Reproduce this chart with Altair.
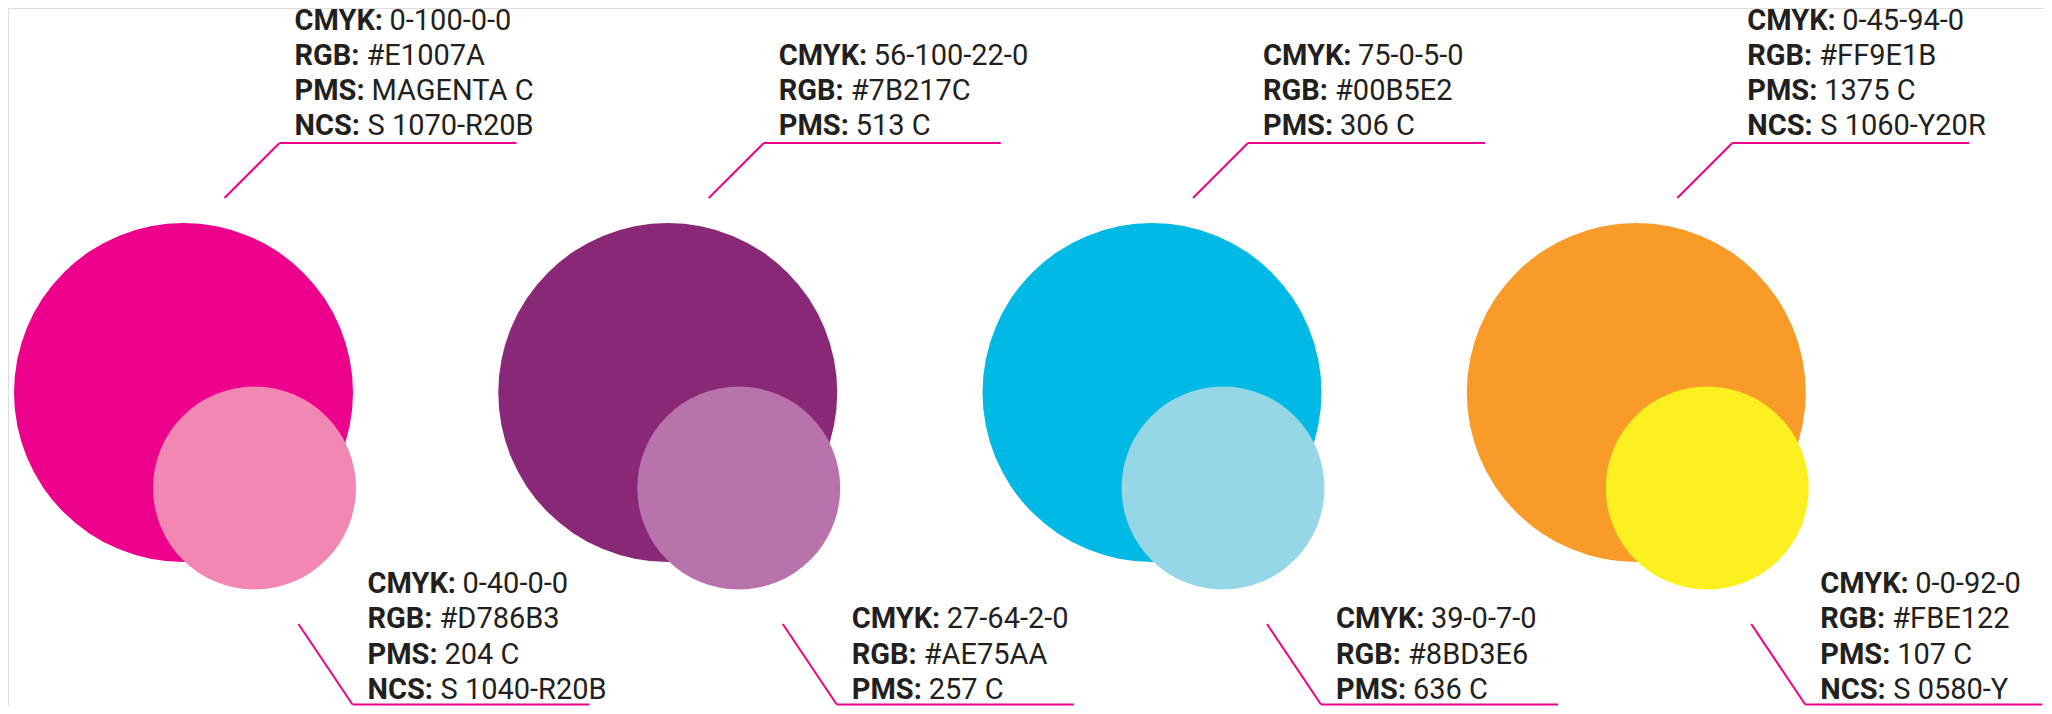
import altair as alt
import pandas as pd

# ---- data ----
big_fill = ["#EC008C", "#8A2878", "#00B9E4", "#F89B29"]
small_fill = ["#F287B3", "#B873AB", "#95D6E7", "#FDF020"]

top_cmyk = ["0-100-0-0", "56-100-22-0", "75-0-5-0", "0-45-94-0"]
top_rgb = ["#E1007A", "#7B217C", "#00B5E2", "#FF9E1B"]
top_pms = ["MAGENTA C", "513 C", "306 C", "1375 C"]
top_ncs = ["S 1070-R20B", "", "", "S 1060-Y20R"]

bot_cmyk = ["0-40-0-0", "27-64-2-0", "39-0-7-0", "0-0-92-0"]
bot_rgb = ["#D786B3", "#AE75AA", "#8BD3E6", "#FBE122"]
bot_pms = ["204 C", "257 C", "636 C", "107 C"]
bot_ncs = ["S 1040-R20B", "", "", "S 0580-Y"]

labels = ["CMYK:", "RGB:", "PMS:", "NCS:"]

# ---- layout constants (pixels in plot space) ----
W, H = 2036, 698
X0, STEP = 175.5, 484.25
BIG_Y, BIG_R = 384.5, 169.5
SMALL_DX, SMALL_Y, SMALL_R = 71, 480, 101.5
LINE = "#EC008C"
INK = "#231F20"
FS = 29
VAL_DX = {"CMYK:": 95, "RGB:": 72, "PMS:": 77, "NCS:": 73}

def cx(g):
    return X0 + g * STEP

# circles (Vega symbol size = (diameter)^2)
circ_rows = []
for g in range(4):
    circ_rows.append({"x": cx(g), "y": BIG_Y, "size": (2 * BIG_R) ** 2, "c": big_fill[g], "o": 0})
for g in range(4):
    circ_rows.append({"x": cx(g) + SMALL_DX, "y": SMALL_Y, "size": (2 * SMALL_R) ** 2, "c": small_fill[g], "o": 1})
circ = pd.DataFrame(circ_rows)

# leader lines
seg = []
for g in range(4):
    c = cx(g)
    seg.append({"x": c + 96, "y": 135, "x2": c + 333, "y2": 135})
    seg.append({"x": c + 96, "y": 135, "x2": c + 41, "y2": 190})
    seg.append({"x": c + 115, "y": 616, "x2": c + 169, "y2": 696.5})
    seg.append({"x": c + 169, "y": 696.5, "x2": c + 406, "y2": 696.5})
segs = pd.DataFrame(seg)

# text rows
txt = []
for g in range(4):
    c = cx(g)
    tv = [top_cmyk[g], top_rgb[g], top_pms[g], top_ncs[g]]
    bv = [bot_cmyk[g], bot_rgb[g], bot_pms[g], bot_ncs[g]]
    for vals, x, last, sp in ((tv, c + 111, 127, 35), (bv, c + 184, 691, 35.5)):
        rows = [(l, v) for l, v in zip(labels, vals) if v]
        n = len(rows)
        for i, (l, v) in enumerate(rows):
            y = last - (n - 1 - i) * sp
            txt.append({"lab": l, "val": v, "x": x, "xv": x + VAL_DX[l], "y": y})
texts = pd.DataFrame(txt)

xs = alt.Scale(domain=[0, W], range=[0, W], nice=False, zero=False)
ys = alt.Scale(domain=[0, H], range=[0, H], nice=False, zero=False)

circles = alt.Chart(circ).mark_circle(opacity=1, strokeWidth=0).encode(
    x=alt.X("x:Q", scale=xs, axis=None),
    y=alt.Y("y:Q", scale=ys, axis=None),
    size=alt.Size("size:Q", scale=None, legend=None),
    color=alt.Color("c:N", scale=None, legend=None),
    order=alt.Order("o:Q"),
)

rules = alt.Chart(segs).mark_rule(color=LINE, strokeWidth=2, strokeCap="butt").encode(
    x=alt.X("x:Q", scale=xs, axis=None),
    y=alt.Y("y:Q", scale=ys, axis=None),
    x2="x2:Q",
    y2="y2:Q",
)

lab_text = alt.Chart(texts).mark_text(
    align="left", baseline="alphabetic", font="Roboto", fontSize=FS,
    fontWeight="bold", color=INK,
).encode(
    x=alt.X("x:Q", scale=xs, axis=None),
    y=alt.Y("y:Q", scale=ys, axis=None),
    text="lab:N",
)

val_text = alt.Chart(texts).mark_text(
    align="left", baseline="alphabetic", font="Roboto", fontSize=FS,
    fontWeight="normal", color=INK,
).encode(
    x=alt.X("xv:Q", scale=xs, axis=None),
    y=alt.Y("y:Q", scale=ys, axis=None),
    text="val:N",
)

chart = alt.layer(circles, rules, lab_text, val_text).properties(
    width=W, height=H, padding=0,
    autosize=alt.AutoSizeParams(type="none"),
).configure_view(stroke=None).configure(background="white")

chart.save("out.html", embed_options={"renderer": "svg", "actions": False})
